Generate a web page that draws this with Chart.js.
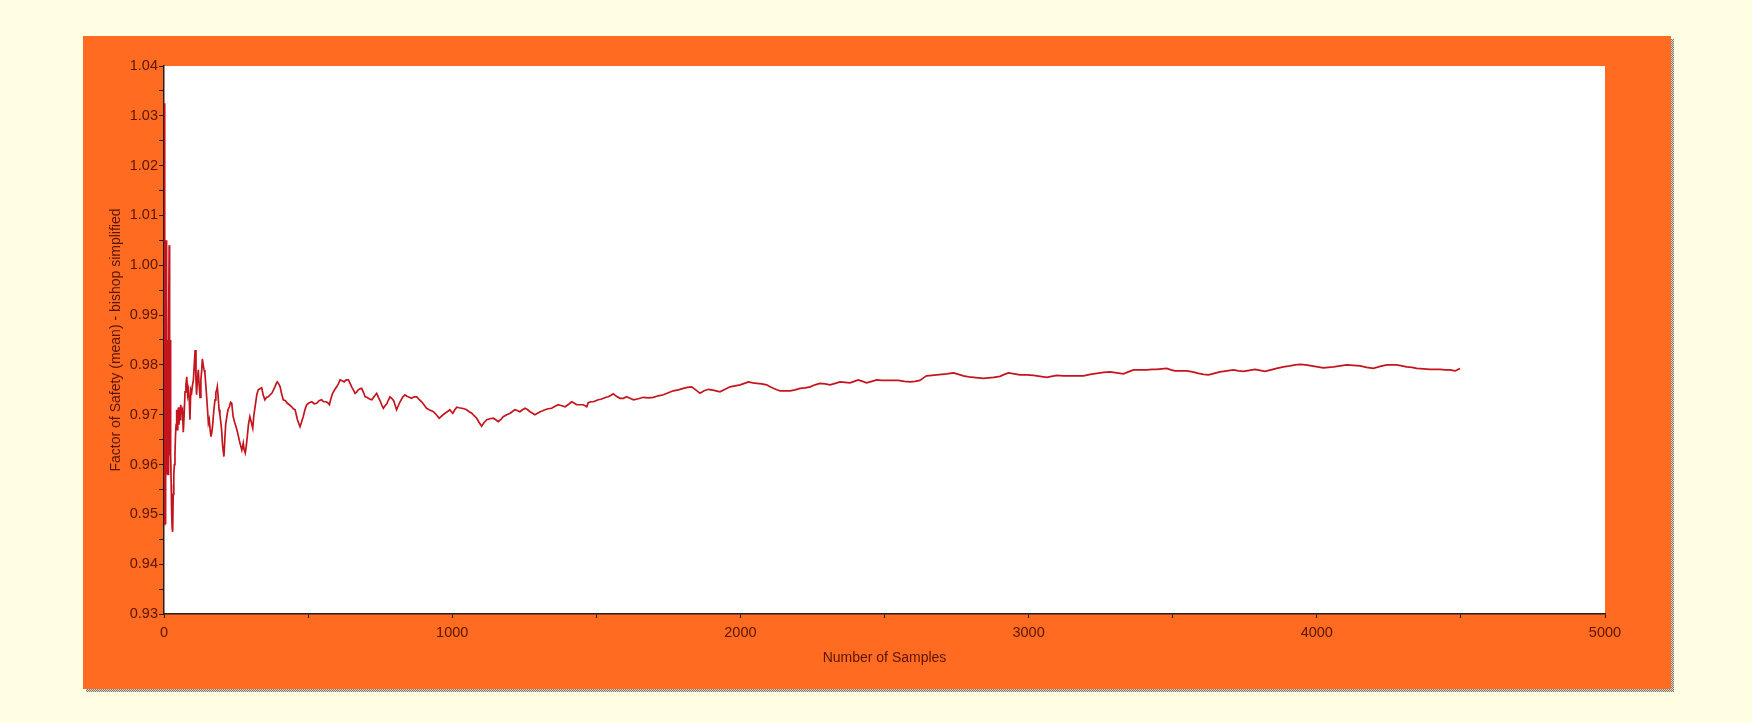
<!DOCTYPE html>
<html>
<head>
<meta charset="utf-8">
<title>Factor of Safety convergence</title>
<script src="https://cdn.jsdelivr.net/npm/chart.js@4/dist/chart.umd.min.js"></script>
<style>
  html, body { margin: 0; padding: 0; }
  body { width: 1752px; height: 723px; background: #fffde2; position: relative; overflow: hidden; }
  #shadow {
    position: absolute; left: 86px; top: 39px; width: 1588px; height: 653px;
    background: repeating-conic-gradient(#7e7a74 0 25%, #d9d6c8 0 50%) 0 0 / 2px 2px;
  }
  #c { position: absolute; left: 83px; top: 36px; background: #ff6b21; }
</style>
</head>
<body>
<div id="shadow"></div>
<canvas id="c" width="1588" height="653"></canvas>
<script>
// Running mean of the factor of safety (Bishop simplified) versus sample count
const samples = [
  1, 2, 3, 4, 5, 6, 7, 8, 9, 10, 11, 12, 13, 14, 15, 16, 17, 18, 19, 20,
  21, 22, 23, 24, 25, 26, 28, 30, 32, 34, 36, 38, 40, 42, 44, 46, 48, 50, 52, 54,
  56, 58, 61, 64, 67, 70, 73, 76, 79, 82, 85, 88, 90, 93, 96, 99, 102, 105, 108, 111,
  113, 116, 119, 122, 125, 128, 131, 133, 136, 139, 142, 145, 148, 151, 154, 157, 160, 163, 166, 169,
  171, 174, 177, 180, 183, 185, 188, 191, 194, 197, 200, 203, 206, 208, 211, 214, 218, 222, 227, 231,
  235, 240, 245, 250, 255, 261, 265, 270, 275, 278, 282, 286, 289, 293, 298, 303, 308, 312, 316, 322,
  327, 333, 339, 344, 350, 356, 362, 368, 374, 380, 385, 389, 393, 398, 403, 408, 414, 421, 428, 435,
  443, 449, 455, 459, 463, 468, 472, 477, 483, 489, 495, 504, 513, 521, 530, 538, 547, 554, 562, 568,
  574, 579, 585, 592, 599, 605, 611, 618, 625, 632, 640, 645, 651, 657, 663, 669, 674, 680, 686, 692,
  698, 704, 709, 715, 721, 730, 738, 744, 750, 755, 761, 767, 773, 779, 784, 790, 797, 807, 813, 819,
  828, 836, 843, 851, 859, 868, 877, 885, 894, 902, 911, 920, 928, 935, 945, 955, 965, 975, 983, 992,
  997, 1002, 1009, 1016, 1024, 1033, 1041, 1050, 1059, 1068, 1076, 1085, 1093, 1102, 1110, 1120, 1131, 1143, 1151, 1160,
  1168, 1177, 1189, 1201, 1210, 1218, 1227, 1235, 1244, 1253, 1262, 1270, 1279, 1287, 1296, 1305, 1314, 1322, 1333, 1345,
  1357, 1368, 1380, 1392, 1404, 1415, 1424, 1432, 1444, 1455, 1467, 1472, 1481, 1490, 1498, 1507, 1516, 1525, 1534, 1542,
  1551, 1559, 1570, 1582, 1594, 1605, 1617, 1629, 1646, 1663, 1680, 1698, 1715, 1733, 1750, 1767, 1785, 1802, 1816, 1831,
  1845, 1860, 1874, 1889, 1909, 1929, 1947, 1964, 1982, 1999, 2014, 2028, 2043, 2057, 2074, 2091, 2103, 2114, 2126, 2138,
  2155, 2172, 2190, 2207, 2225, 2242, 2259, 2276, 2294, 2311, 2329, 2346, 2363, 2380, 2395, 2409, 2424, 2438, 2456, 2473,
  2490, 2508, 2528, 2548, 2569, 2589, 2606, 2623, 2635, 2646, 2664, 2681, 2699, 2716, 2728, 2739, 2757, 2774, 2792, 2809,
  2826, 2843, 2861, 2878, 2890, 2901, 2916, 2930, 2950, 2970, 2994, 3017, 3040, 3063, 3080, 3098, 3121, 3144, 3167, 3190,
  3214, 3237, 3260, 3283, 3306, 3329, 3346, 3364, 3387, 3410, 3428, 3445, 3462, 3479, 3494, 3508, 3529, 3549, 3569, 3589,
  3607, 3624, 3644, 3664, 3688, 3711, 3728, 3745, 3766, 3786, 3803, 3820, 3841, 3861, 3884, 3907, 3925, 3942, 3962, 3982,
  4003, 4023, 4040, 4058, 4081, 4104, 4127, 4150, 4173, 4196, 4220, 4243, 4260, 4277, 4295, 4312, 4330, 4347, 4370, 4393,
  4411, 4428, 4445, 4462, 4480, 4490, 4497
];

const fosMean = [
  1.0325, 0.9478, 0.9900, 0.9620, 0.9880, 0.9480, 1.0050, 0.9600, 0.9880, 0.9580, 0.9850, 0.9640, 0.9800, 0.9580, 0.9700, 0.9650, 0.9880, 1.0040, 0.9860, 0.9680,
  0.9620, 0.9760, 0.9850, 0.9620, 0.9560, 0.9520, 0.9475, 0.9465, 0.9540, 0.9580, 0.9600, 0.9620, 0.9660, 0.9680, 0.9710, 0.9670, 0.9700, 0.9715, 0.9680, 0.9710,
  0.9690, 0.9720, 0.9705, 0.9710, 0.9665, 0.9700, 0.9746, 0.9760, 0.9776, 0.9740, 0.9750, 0.9725, 0.9690, 0.9750, 0.9745, 0.9760, 0.9770, 0.9800, 0.9830, 0.9770,
  0.9740, 0.9770, 0.9790, 0.9760, 0.9735, 0.9770, 0.9790, 0.9812, 0.9800, 0.9790, 0.9784, 0.9760, 0.9736, 0.9710, 0.9683, 0.9690, 0.9670, 0.9656, 0.9665, 0.9680,
  0.9696, 0.9715, 0.9730, 0.9745, 0.9750, 0.9756, 0.9735, 0.9710, 0.9700, 0.9685, 0.9669, 0.9640, 0.9625, 0.9616, 0.9650, 0.9680, 0.9696, 0.9710, 0.9716, 0.9725,
  0.9723, 0.9696, 0.9685, 0.9676, 0.9665, 0.9649, 0.9640, 0.9629, 0.9643, 0.9630, 0.9623, 0.9640, 0.9656, 0.9680, 0.9696, 0.9685, 0.9673, 0.9700, 0.9716, 0.9740,
  0.9750, 0.9752, 0.9754, 0.9740, 0.9730, 0.9735, 0.9736, 0.9740, 0.9743, 0.9750, 0.9756, 0.9762, 0.9766, 0.9762, 0.9756, 0.9742, 0.9730, 0.9728, 0.9723, 0.9720,
  0.9716, 0.9712, 0.9710, 0.9700, 0.9690, 0.9682, 0.9676, 0.9685, 0.9696, 0.9710, 0.9720, 0.9724, 0.9726, 0.9722, 0.9723, 0.9728, 0.9730, 0.9726, 0.9726, 0.9724,
  0.9720, 0.9732, 0.9743, 0.9750, 0.9756, 0.9762, 0.9770, 0.9768, 0.9766, 0.9770, 0.9770, 0.9764, 0.9756, 0.9750, 0.9743, 0.9746, 0.9750, 0.9752, 0.9753, 0.9745,
  0.9736, 0.9735, 0.9733, 0.9731, 0.9730, 0.9737, 0.9743, 0.9735, 0.9728, 0.9720, 0.9713, 0.9718, 0.9722, 0.9730, 0.9736, 0.9733, 0.9728, 0.9710, 0.9718, 0.9726,
  0.9735, 0.9740, 0.9737, 0.9735, 0.9733, 0.9736, 0.9736, 0.9731, 0.9726, 0.9720, 0.9713, 0.9710, 0.9708, 0.9706, 0.9700, 0.9693, 0.9698, 0.9703, 0.9706, 0.9710,
  0.9706, 0.9703, 0.9710, 0.9715, 0.9714, 0.9713, 0.9712, 0.9710, 0.9706, 0.9703, 0.9698, 0.9693, 0.9685, 0.9677, 0.9684, 0.9690, 0.9692, 0.9693, 0.9690, 0.9686,
  0.9690, 0.9696, 0.9700, 0.9703, 0.9707, 0.9710, 0.9708, 0.9706, 0.9710, 0.9713, 0.9710, 0.9706, 0.9703, 0.9700, 0.9703, 0.9706, 0.9708, 0.9710, 0.9712, 0.9713,
  0.9717, 0.9720, 0.9718, 0.9716, 0.9721, 0.9726, 0.9723, 0.9720, 0.9720, 0.9720, 0.9716, 0.9724, 0.9726, 0.9726, 0.9728, 0.9730, 0.9731, 0.9733, 0.9735, 0.9736,
  0.9739, 0.9742, 0.9737, 0.9733, 0.9733, 0.9736, 0.9733, 0.9730, 0.9732, 0.9735, 0.9734, 0.9735, 0.9738, 0.9740, 0.9744, 0.9748, 0.9750, 0.9753, 0.9755, 0.9756,
  0.9750, 0.9743, 0.9748, 0.9751, 0.9749, 0.9746, 0.9751, 0.9756, 0.9758, 0.9760, 0.9763, 0.9766, 0.9764, 0.9763, 0.9762, 0.9760, 0.9756, 0.9753, 0.9750, 0.9748,
  0.9748, 0.9748, 0.9750, 0.9753, 0.9754, 0.9756, 0.9760, 0.9763, 0.9762, 0.9760, 0.9763, 0.9766, 0.9765, 0.9764, 0.9767, 0.9770, 0.9767, 0.9764, 0.9767, 0.9770,
  0.9769, 0.9769, 0.9769, 0.9769, 0.9767, 0.9766, 0.9767, 0.9769, 0.9774, 0.9778, 0.9779, 0.9780, 0.9781, 0.9782, 0.9783, 0.9784, 0.9781, 0.9778, 0.9776, 0.9775,
  0.9774, 0.9773, 0.9774, 0.9775, 0.9776, 0.9777, 0.9781, 0.9784, 0.9782, 0.9780, 0.9780, 0.9779, 0.9777, 0.9775, 0.9777, 0.9779, 0.9778, 0.9778, 0.9778, 0.9778,
  0.9781, 0.9783, 0.9785, 0.9786, 0.9784, 0.9782, 0.9786, 0.9790, 0.9790, 0.9790, 0.9791, 0.9791, 0.9792, 0.9793, 0.9790, 0.9788, 0.9788, 0.9788, 0.9786, 0.9783,
  0.9781, 0.9780, 0.9783, 0.9786, 0.9788, 0.9790, 0.9788, 0.9787, 0.9789, 0.9791, 0.9789, 0.9787, 0.9790, 0.9793, 0.9796, 0.9798, 0.9800, 0.9801, 0.9800, 0.9798,
  0.9796, 0.9794, 0.9795, 0.9796, 0.9798, 0.9800, 0.9799, 0.9798, 0.9795, 0.9793, 0.9797, 0.9800, 0.9800, 0.9800, 0.9798, 0.9796, 0.9795, 0.9793, 0.9792, 0.9791,
  0.9791, 0.9791, 0.9790, 0.9790, 0.9788, 0.9791, 0.9793
];

// Axis ranges and tick spacing
const xRange = [0, 5000];
const xStep = 500;
const xLabelStep = 1000;
const yRange = [0.93, 1.04];
const yStep = 0.005;

const xTitle = 'Number of Samples';
const yTitle = 'Factor of Safety (mean) - bishop simplified';

const textColor = '#5a1400';
const axisColor = '#2a1c18';
const fontFamily = "'Liberation Sans', Arial, Helvetica, sans-serif";

// White plotting field on the orange frame
const plotBackground = {
  id: 'plotBackground',
  beforeDraw(chart) {
    const { ctx, chartArea: a } = chart;
    ctx.save();
    ctx.fillStyle = '#ffffff';
    ctx.fillRect(a.left, a.top, a.right - a.left, a.bottom - a.top);
    ctx.restore();
  }
};

new Chart(document.getElementById('c'), {
  type: 'scatter',
  data: {
    datasets: [{
      label: yTitle,
      data: samples.map((s, i) => ({ x: s, y: fosMean[i] })),
      showLine: true,
      borderColor: '#c4141d',
      borderWidth: 1.7,
      pointRadius: 0,
      pointHoverRadius: 0,
      tension: 0,
      fill: false
    }]
  },
  options: {
    responsive: false,
    devicePixelRatio: 1,
    animation: false,
    layout: { padding: { left: 0, top: 30, right: 66, bottom: 0 } },
    plugins: {
      legend: { display: false },
      tooltip: { enabled: false }
    },
    scales: {
      x: {
        type: 'linear',
        min: xRange[0],
        max: xRange[1],
        afterFit(scale) { scale.height = 75; },
        border: { display: true, color: axisColor, width: 1.5 },
        grid: { drawOnChartArea: false, drawTicks: true, tickLength: 4, color: axisColor, lineWidth: 1 },
        ticks: {
          stepSize: xStep,
          autoSkip: false,
          maxRotation: 0,
          padding: 6,
          color: textColor,
          font: { family: fontFamily, size: 14.5 },
          callback: v => (v % xLabelStep === 0 ? String(v) : '')
        },
        title: {
          display: true,
          text: xTitle,
          color: textColor,
          font: { family: fontFamily, size: 14 },
          padding: { top: 0, bottom: 22 }
        }
      },
      y: {
        type: 'linear',
        min: yRange[0],
        max: yRange[1],
        afterFit(scale) { scale.width = 81; },
        border: { display: true, color: axisColor, width: 1.5 },
        grid: { drawOnChartArea: false, drawTicks: true, tickLength: 5, color: axisColor, lineWidth: 1 },
        ticks: {
          stepSize: yStep,
          autoSkip: false,
          padding: 1,
          color: textColor,
          font: { family: fontFamily, size: 14.5 },
          callback: v => {
            const k = Math.round(v * 1000);
            return k % 10 === 0 ? (k / 1000).toFixed(2) : '';
          }
        },
        title: {
          display: true,
          text: yTitle,
          color: textColor,
          font: { family: fontFamily, size: 14 },
          padding: { top: 25, bottom: 0 }
        }
      }
    }
  },
  plugins: [plotBackground]
});
</script>
</body>
</html>
